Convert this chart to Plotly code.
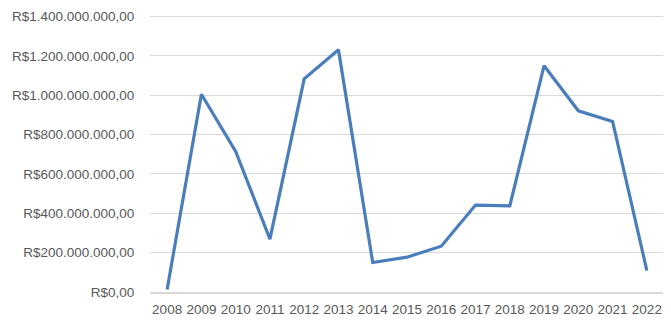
import plotly.graph_objects as go

years = ["2008", "2009", "2010", "2011", "2012", "2013", "2014", "2015",
         "2016", "2017", "2018", "2019", "2020", "2021", "2022"]
values = [13e6, 1005e6, 714e6, 269e6, 1083e6, 1231e6, 150e6, 177e6,
          233e6, 442e6, 438e6, 1150e6, 921e6, 867e6, 109e6]
tick_vals = [0, 200e6, 400e6, 600e6, 800e6, 1000e6, 1200e6, 1400e6]
tick_text = ["R$0,00", "R$200.000.000,00", "R$400.000.000,00", "R$600.000.000,00",
             "R$800.000.000,00", "R$1.000.000.000,00", "R$1.200.000.000,00",
             "R$1.400.000.000,00"]

fig = go.Figure(go.Scatter(
    x=years, y=values, mode="lines",
    line=dict(color="#4a7ebb", width=3.2),
))

# page body has an 8px margin, so the figure is sized to fit the 671x322 window
fig.update_layout(
    width=663, height=314,
    margin=dict(l=142, r=7, t=4, b=30, autoexpand=False),
    paper_bgcolor="white", plot_bgcolor="white",
    showlegend=False,
    font=dict(family="Liberation Sans, Arial, sans-serif", size=13.5, color="#595959"),
)
fig.update_xaxes(
    type="category", showgrid=False, automargin=False,
    showline=True, linecolor="#d9d9d9", linewidth=1.5,
    ticks="outside", ticklen=4, tickcolor="rgba(0,0,0,0)",
    range=[-0.5, 14.5],
)
fig.update_yaxes(
    range=[0, 1423e6], tickvals=tick_vals, ticktext=tick_text, automargin=False,
    showgrid=True, gridcolor="#d9d9d9", gridwidth=1.3,
    zeroline=False, showline=False,
    ticks="outside", ticklen=12, tickcolor="rgba(0,0,0,0)",
)

fig.write_html("out.html")
